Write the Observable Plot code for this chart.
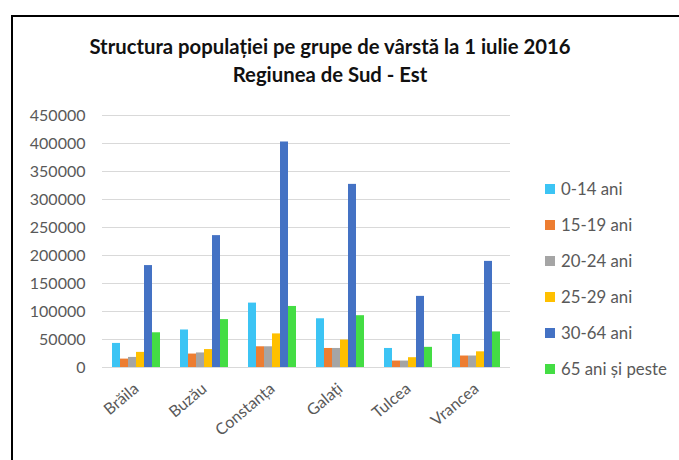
<!DOCTYPE html>
<html>
<head>
<meta charset="utf-8">
<script src="https://cdn.jsdelivr.net/npm/d3@7"></script>
<script src="https://cdn.jsdelivr.net/npm/@observablehq/plot@0.6"></script>
<style>
  body { margin: 0; background: #fff; }
  #wrap { position: relative; width: 679px; height: 460px; overflow: hidden; background: #fff; font-family: Lato, "Open Sans", sans-serif; }
  #frame { position: absolute; left: 11px; top: 15px; width: 700px; height: 500px; border-left: 2px solid #000; border-top: 2px solid #000; }
  #title { position: absolute; left: 0; width: 660px; top: 32px; text-align: center; font-weight: bold; font-size: 20.3px; line-height: 28px; color: #111; }
  #chart { position: absolute; left: 0; top: 100px; }
  #legend { position: absolute; left: 545px; top: 178px; font-size: 16.8px; color: #595959; }
  .item { height: 36px; display: flex; align-items: flex-start; }
  .sw { width: 10px; height: 10px; margin-top: 6px; margin-right: 6px; }
</style>
</head>
<body>
<div id="wrap">
  <div id="frame"></div>
  <div id="title">Structura populației pe grupe de vârstă la 1 iulie 2016<br>Regiunea de Sud - Est</div>
  <div id="chart"></div>
  <div id="legend"></div>
</div>
<script>
const counties = ["Brăila", "Buzău", "Constanța", "Galați", "Tulcea", "Vrancea"];
const ageGroups = ["0-14 ani", "15-19 ani", "20-24 ani", "25-29 ani", "30-64 ani", "65 ani și peste"];
const colors = ["#3cc4f4", "#ed7d31", "#a5a5a5", "#ffc000", "#4472c4", "#44dd44"];
const v0_14  = [43000, 67000, 115000, 87000, 34000, 59000];
const v15_19 = [15000, 24000, 37000, 34000, 11500, 20500];
const v20_24 = [18000, 26000, 37000, 34000, 11500, 20500];
const v25_29 = [27000, 32000, 60000, 49000, 17500, 28000];
const v30_64 = [182000, 235500, 402700, 327000, 127000, 189500];
const v65    = [62000, 85500, 109000, 92500, 36000, 63500];
const yTicks = [0, 50000, 100000, 150000, 200000, 250000, 300000, 350000, 400000, 450000];

const series = [v0_14, v15_19, v20_24, v25_29, v30_64, v65];
const data = [];
counties.forEach((c, i) => {
  ageGroups.forEach((a, j) => {
    data.push({county: c, age: a, value: series[j][i]});
  });
});
const grid = [];
counties.forEach(c => yTicks.forEach(t => grid.push({county: c, t})));

const chart = Plot.plot({
  width: 530,
  height: 360,
  marginTop: 15,
  marginBottom: 93,
  marginLeft: 100,
  marginRight: 18,
  style: {fontFamily: "Lato, 'Open Sans', sans-serif", fontSize: "16px", color: "#595959", background: "transparent", overflow: "visible"},
  fx: {domain: counties, paddingInner: 0.26, paddingOuter: 0.13, label: null, tickRotate: -40, tickSize: 0, tickPadding: 19, fontSize: 17.5},
  x: {domain: ageGroups, padding: 0, axis: null},
  y: {domain: [0, 450000], ticks: yTicks, tickFormat: d => String(d), tickSize: 0, tickPadding: 26, label: null},
  color: {domain: ageGroups, range: colors},
  marks: [
    Plot.ruleY(grid, {fx: "county", y: "t", stroke: "#d9d9d9", strokeWidth: 1.2, insetLeft: -9, insetRight: -9}),
    Plot.barY(data, {fx: "county", x: "age", y: "value", fill: "age"})
  ]
});
document.getElementById("chart").appendChild(chart);

const legend = document.getElementById("legend");
ageGroups.forEach((a, j) => {
  const item = document.createElement("div");
  item.className = "item";
  const sw = document.createElement("div");
  sw.className = "sw";
  sw.style.background = colors[j];
  const t = document.createElement("span");
  t.textContent = a;
  item.appendChild(sw);
  item.appendChild(t);
  legend.appendChild(item);
});
</script>
</body>
</html>
